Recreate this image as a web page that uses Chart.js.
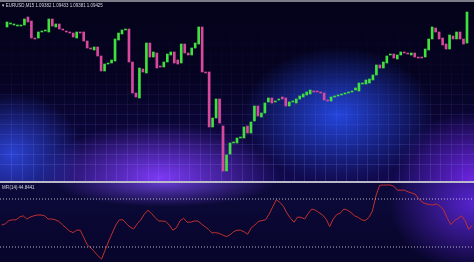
<!DOCTYPE html>
<html>
<head>
<meta charset="utf-8">
<script src="https://cdn.jsdelivr.net/npm/chart.js@4.4.0/dist/chart.umd.min.js"></script>
<style>
html,body{margin:0;padding:0;background:#05031c;overflow:hidden;}
#marco{position:relative;width:474px;height:262px;overflow:hidden;font-family:"Liberation Sans Narrow","Liberation Sans",Arial,sans-serif;}
#borde{position:absolute;left:0;top:0;width:474px;height:2px;background:#7c7c88;}
#panel{position:absolute;left:0;top:2px;width:474px;height:179px;
 background:
  radial-gradient(ellipse 70px 62px at 12px 152px,rgba(50,80,245,.8),rgba(50,80,245,0)),
  radial-gradient(ellipse 120px 55px at 160px 176px,rgba(130,60,255,.95),rgba(130,60,255,0)),
  radial-gradient(ellipse 95px 68px at 338px 113px,rgba(40,80,250,.85),rgba(40,80,250,0)),
  radial-gradient(ellipse 80px 70px at 474px 179px,rgba(120,40,245,.9),rgba(120,40,245,0)),
  linear-gradient(#04031a 0%,#050320 40%,#110a4e 100%);}
#sep{position:absolute;left:0;top:181px;width:474px;height:2px;background:#b9b9c9;}
#panelMfi{position:absolute;left:0;top:183px;width:474px;height:79px;
 background:
  radial-gradient(ellipse 110px 24px at 165px 0px,rgba(120,70,240,.8),rgba(120,70,240,0)),
  radial-gradient(ellipse 85px 70px at 474px 20px,rgba(100,40,235,.85),rgba(100,40,235,0)),
  linear-gradient(#0c0a3a,#07052a);}
#cvVelas{position:absolute;left:0;top:5px;}
#cvMfi{position:absolute;left:0;top:183px;}
.rotulo{position:absolute;color:#d8d8e0;font-size:5px;line-height:5px;white-space:nowrap;transform-origin:0 0;transform:scaleX(0.88);}
</style>
</head>
<body>
<div id="marco">
  <div id="borde"></div>
  <div id="panel"></div>
  <div id="sep"></div>
  <div id="panelMfi"></div>
  <canvas id="cvVelas" width="474" height="176"></canvas>
  <canvas id="cvMfi" width="474" height="80"></canvas>
  <div class="rotulo" id="cabecera" style="left:2px;top:3px"></div>
  <div class="rotulo" id="rotuloMfi" style="left:2px;top:185px"></div>
</div>
<script>
//datos
const simbolo='EURUSD,M15';
const ohlcUltima=['1.09382','1.09433','1.09381','1.09425'];
const textoMfi='MFI(14) 44.8441';

const aperturas=[
1.09395,1.09401,1.09399,1.09397,1.09397,1.09399,1.09415,1.09407,1.09373,1.09373,
1.09385,1.09387,1.09385,1.09411,1.09395,1.09401,1.09391,1.09387,1.09385,1.09383,
1.09373,1.09385,1.09385,1.09367,1.09353,1.09349,1.09355,1.09337,1.09307,1.09321,
1.09323,1.09327,1.09369,1.09381,1.09389,1.09391,1.09325,1.09263,1.09253,1.09311,
1.09303,1.09363,1.09335,1.09343,1.09317,1.09315,1.09325,1.09339,1.09345,1.09329,
1.09323,1.09361,1.09343,1.09339,1.09353,1.09361,1.09395,1.09305,1.09305,1.09195,
1.09213,1.09251,1.09197,1.09107,1.09141,1.09163,1.09163,1.09173,1.09173,1.09197,
1.09183,1.09207,1.09237,1.09215,1.09223,1.09245,1.09253,1.09245,1.09249,1.09255,
1.09253,1.09237,1.09245,1.09243,1.09251,1.09255,1.09259,1.09261,1.09267,1.09267,
1.09265,1.09263,1.09249,1.09247,1.09255,1.09257,1.09259,1.09261,1.09263,1.09265,
1.09269,1.09267,1.09281,1.09281,1.09283,1.09289,1.09299,1.09319,1.09313,1.09323,
1.09339,1.09341,1.09331,1.09339,1.09345,1.09343,1.09339,1.09343,1.09335,1.09335,
1.09335,1.09349,1.09371,1.09393,1.09385,1.09373,1.09361,1.09351,1.09377,1.09371,
1.09385,1.09371,1.09363];
const cierres=[
1.09405,1.09403,1.09401,1.09399,1.09399,1.09411,1.09405,1.09373,1.09371,1.09385,
1.09387,1.09389,1.09411,1.09397,1.09401,1.09391,1.09389,1.09385,1.09383,1.09375,
1.09385,1.09383,1.09367,1.09353,1.09351,1.09355,1.09337,1.09307,1.09321,1.09323,
1.09329,1.09371,1.09383,1.09389,1.09391,1.09325,1.09263,1.09255,1.09313,1.09305,
1.09363,1.09335,1.09345,1.09313,1.09315,1.09325,1.09341,1.09345,1.09323,1.09321,
1.09361,1.09343,1.09339,1.09353,1.09363,1.09395,1.09305,1.09303,1.09195,1.09213,
1.09251,1.09203,1.09107,1.09139,1.09163,1.09165,1.09173,1.09175,1.09195,1.09183,
1.09205,1.09237,1.09217,1.09223,1.09243,1.09253,1.09243,1.09247,1.09251,1.09251,
1.09237,1.09245,1.09247,1.09251,1.09257,1.09261,1.09265,1.09269,1.09265,1.09265,
1.09263,1.09249,1.09247,1.09255,1.09257,1.09259,1.09261,1.09263,1.09265,1.09267,
1.09273,1.09283,1.09283,1.09289,1.09291,1.09299,1.09319,1.09313,1.09325,1.09337,
1.09341,1.09333,1.09339,1.09345,1.09343,1.09341,1.09343,1.09335,1.09333,1.09333,
1.09351,1.09371,1.09395,1.09385,1.09371,1.09359,1.09351,1.09379,1.09371,1.09385,
1.09371,1.09361,1.09425];

const mfiValores=[
47.5,49,53,54,54,57.5,59,55,57.5,59,
60,60,59,55,55,54,52,48,44,40,
38,41,41,32,22.5,19,14,9,5,16,
27.5,37.5,47.5,54,54,49,45,42.5,49,54,
61,66,62,57,52.5,52.5,52,47.5,41,44,
52.5,56,51,51,52.5,52.5,49,45.5,42,37.5,
38,37,35,33,35,39,41,41,39,36,
44,47.5,52,53,54,61,70,79,76,71,
62.5,56,51,57.5,57,55,62,67.5,66,63,
60,55,45.5,55,60.5,62.5,67.5,66,63,59,
57,54,53,57,65,84,97,97.5,97.5,97.5,
96,91,91,91,89,87.5,86,80,76,74,
73,72.5,74,71,66,56,48,53,55.5,59,
53,42,47];
const nivelesMfi=[80,20];

//rango de precios visible del panel
const precioMin=1.09087;
const precioMax=1.09439;

const verde='#3fe03f';
const rosa='#d8489c';

const primeraBarra=-0.5;
const ultimaBarra=aperturas.length-0.5;

//cabeceras
document.getElementById('cabecera').textContent='\u25BE '+simbolo+' '+ohlcUltima.join(' ');
document.getElementById('rotuloMfi').textContent=textoMfi;

//la rejilla casi no se ve arriba, solo donde hay brillo abajo
let gradGrid=null;
function colorGrid(c)
{
    if(!gradGrid)
    {
        gradGrid=c.chart.ctx.createLinearGradient(0,0,0,c.chart.height);
        gradGrid.addColorStop(0,'rgba(125,125,255,0.0)');
        gradGrid.addColorStop(0.4,'rgba(125,125,255,0.04)');
        gradGrid.addColorStop(1,'rgba(140,140,255,0.2)');
    }
    return gradGrid;
}

function crearGrafico(ctx,type,datasets,scales)
{
    return new Chart(ctx,{
        type:type,
        data:{datasets:datasets},
        options:{
            responsive:false,
            animation:false,
            events:[],
            layout:{padding:0},
            plugins:{legend:{display:false},tooltip:{enabled:false}},
            scales:scales
        }
    });
}

//velas: cuerpo como barra flotante [apertura, cierre]
const velas=aperturas.map((a,i)=>({x:i,y:[a,cierres[i]]}));
const coloresVelas=aperturas.map((a,i)=>cierres[i]>=a?verde:rosa);

crearGrafico(
    document.getElementById('cvVelas'),
    'bar',
    [{
        data:velas,
        backgroundColor:coloresVelas,
        borderWidth:0,
        borderSkipped:false,
        barThickness:2
    }],
    {
        x:{
            type:'linear',min:primeraBarra,max:ultimaBarra,
            ticks:{display:false,stepSize:3},
            grid:{color:colorGrid,drawTicks:false},
            border:{display:false}
        },
        y:{
            min:precioMin,max:precioMax,
            ticks:{display:false,stepSize:0.0002},
            grid:{color:colorGrid,drawTicks:false},
            border:{display:false}
        }
    }
);

//panel del MFI
const datasetsMfi=nivelesMfi.map(n=>({
    data:[{x:primeraBarra,y:n},{x:ultimaBarra,y:n}],
    borderColor:'rgba(215,215,232,0.85)',
    borderWidth:1,
    borderDash:[1,2],
    pointRadius:0
}));
datasetsMfi.push({
    data:mfiValores.map((v,i)=>({x:i,y:v})),
    borderColor:'#c2302e',
    borderWidth:1,
    pointRadius:0,
    tension:0
});

crearGrafico(
    document.getElementById('cvMfi'),
    'line',
    datasetsMfi,
    {
        x:{type:'linear',min:primeraBarra,max:ultimaBarra,display:false},
        y:{min:0,max:100,display:false}
    }
);
</script>
</body>
</html>
